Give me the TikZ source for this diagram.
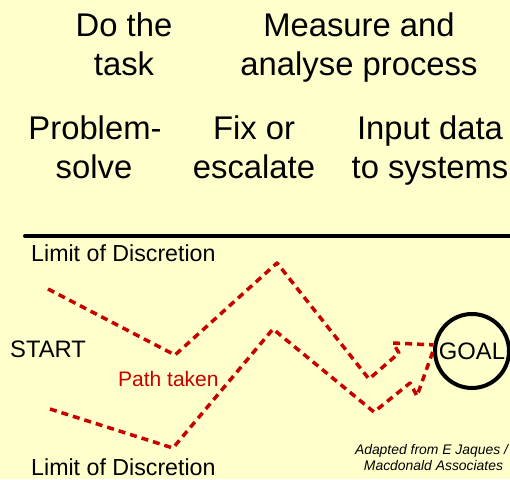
\documentclass[tikz,border=0pt]{standalone}
\usepackage{fontspec}
\setmainfont{Liberation Sans}
\definecolor{paper}{RGB}{255,255,204}
\definecolor{pathred}{RGB}{200,0,0}
\begin{document}
\begin{tikzpicture}[x=1pt,y=-1pt,
  head/.style={inner sep=0pt, anchor=base, font=\fontsize{32.8}{39}\selectfont},
  field/.style={inner sep=0pt, anchor=base west, font=\fontsize{23.8}{28}\selectfont},
  limit/.style={field, font=\fontsize{23.2}{28}\selectfont},
  route/.style={draw=pathred, line width=3.5pt, dash pattern=on 7pt off 5pt, line join=round},
  credit/.style={inner sep=0pt, anchor=base, font=\fontsize{13.9}{15}\selectfont\itshape}]
\useasboundingbox (0,0) rectangle (510,479);
\fill[paper] (0,0) rectangle (510,479);

% activity headings
\node[head] (do1) at (124,36) {Do the};
\node[head] (do2) at (124,75) {task};
\node[head] (ms1) at (359,36) {Measure and};
\node[head] (ms2) at (359,75) {analyse process};
\node[head] (ps1) at (95,139) {Problem-};
\node[head] (ps2) at (94,178) {solve};
\node[head] (fx1) at (254,139) {Fix or};
\node[head] (fx2) at (254,178) {escalate};
\node[head] (in1) at (430,139) {Input data};
\node[head] (in2) at (430,178) {to systems};

% upper boundary
\coordinate (barL) at (25,236);
\coordinate (barR) at (512,236);
\draw[line width=4pt, line cap=round] (barL) -- (barR);

% field labels
\node[limit] (limtop) at (31,261) {Limit of Discretion};
\node[limit] (limbot) at (31,475) {Limit of Discretion};
\node[field] (start) at (10,357) {START};
\node[field, text=pathred, font=\fontsize{21}{25}\selectfont] (taken) at (118,386) {Path taken};
\node[draw, circle, line width=4pt, minimum size=74pt, inner sep=0pt,
      font=\fontsize{23.8}{28}\selectfont] (goal) at (472,351) {GOAL};

% upper route
\coordinate (u0) at (48,289);
\coordinate (u1) at (175,355);
\coordinate (u2) at (277,263);
\coordinate (u3) at (369,379);
\coordinate (u4) at (399,353);
\coordinate (u5) at (393,343);
\draw[route] (u0) -- (u1) -- (u2) -- (u3) -- (u4) -- (u5) -- (goal.171);

% lower route
\coordinate (l0) at (50,409);
\coordinate (l1) at (173,448);
\coordinate (l2) at (273,329);
\coordinate (l3) at (374,412);
\coordinate (l4) at (410,383);
\coordinate (l5) at (417,396);
\draw[route] (l0) -- (l1) -- (l2) -- (l3) -- (l4) -- (l5) -- (goal.180);

% source note
\node[credit] (src1) at (431.5,454) {Adapted from E Jaques /};
\node[credit] (src2) at (433.5,470) {Macdonald Associates};
\end{tikzpicture}
\end{document}
